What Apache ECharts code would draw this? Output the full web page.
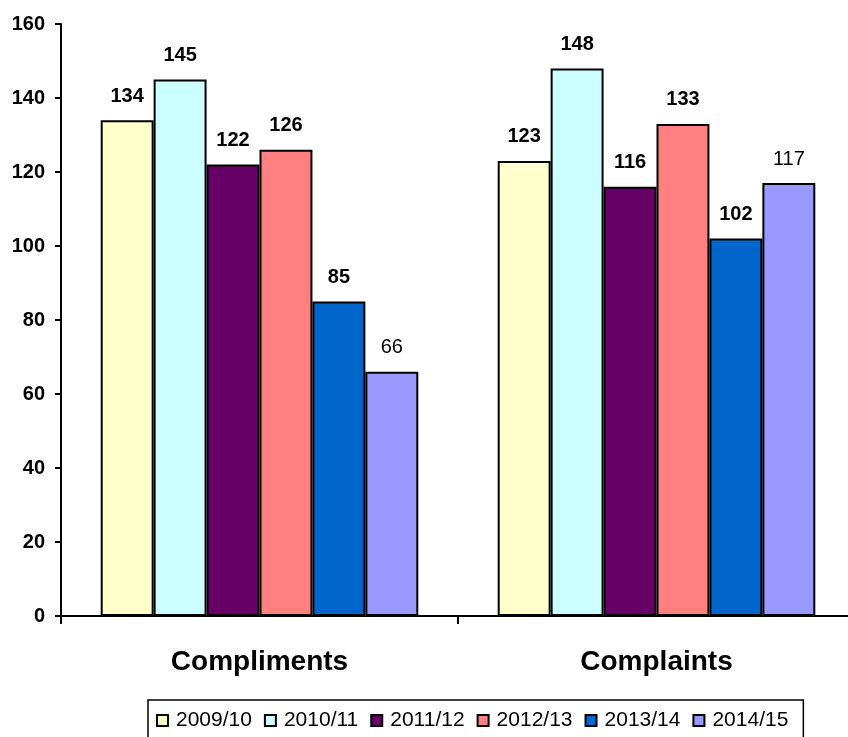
<html>
  <head>
    <meta charset="utf-8">
    <style>
      html, body { margin: 0; padding: 0; background: #fff; overflow: hidden; }
      #chart { width: 855px; height: 737px; }
    </style>
  </head>
  <body>
    <div id="chart"></div>
  </body>
  <script src="https://cdn.jsdelivr.net/npm/echarts@6/dist/echarts.min.js"></script>
  <script>

// data
var categories = ['Compliments', 'Complaints'];
var years = ['2009/10', '2010/11', '2011/12', '2012/13', '2013/14', '2014/15'];
var v2009 = [134, 123];
var v2010 = [145, 148];
var v2011 = [122, 116];
var v2012 = [126, 133];
var v2013 = [85, 102];
var v2014 = [66, 117];
var yTicks = [0, 20, 40, 60, 80, 100, 120, 140, 160];

var values = [v2009, v2010, v2011, v2012, v2013, v2014];
var colors = ['#FFFFCC', '#CCFFFF', '#660066', '#FF8080', '#0066CC', '#9999FF'];

var font = 'Arial, "Liberation Sans", sans-serif';

var series = [];
for (var i = 0; i < years.length; i++) {
  series.push({
    name: years[i],
    type: 'bar',
    data: values[i],
    barGap: '0%',
    barCategoryGap: '20%',
    itemStyle: { color: colors[i], borderColor: '#000', borderWidth: 2 },
    label: {
      show: true,
      position: 'top',
      distance: 14,
      color: '#000',
      fontFamily: font,
      fontSize: 20,
      fontWeight: i == 5 ? 'normal' : 'bold'
    }
  });
}

// chart div is a little wider than the window: the plot runs off the right edge
var chart = echarts.init(document.getElementById('chart'));
chart.setOption({
  animation: false,
  textStyle: { fontFamily: font },
  grid: { left: 61, top: 24, right: 0, bottom: 121, containLabel: false },
  legend: {
    data: years,
    left: 148,
    top: 700,
    icon: 'rect',
    itemWidth: 11,
    itemHeight: 11,
    itemGap: 12,
    padding: [10, 15, 10, 8],
    borderColor: '#000',
    borderWidth: 1.5,
    textStyle: { color: '#000', fontSize: 21, fontFamily: font, padding: [0, 0, 0, 3] }
  },
  xAxis: {
    type: 'category',
    data: categories,
    axisLine: { lineStyle: { color: '#000', width: 2 } },
    axisTick: { show: true, length: 8, lineStyle: { color: '#000', width: 2 } },
    axisLabel: { color: '#000', fontSize: 28, fontWeight: 'bold', margin: 32, fontFamily: font }
  },
  yAxis: {
    type: 'value',
    min: yTicks[0],
    max: yTicks[yTicks.length - 1],
    interval: 20,
    splitLine: { show: false },
    axisLine: { show: true, lineStyle: { color: '#000', width: 2 } },
    axisTick: { show: true, length: 6, lineStyle: { color: '#000', width: 2 } },
    axisLabel: { color: '#000', fontSize: 20, fontWeight: 'bold', margin: 16, fontFamily: font }
  },
  series: series
});

  </script>
</html>
